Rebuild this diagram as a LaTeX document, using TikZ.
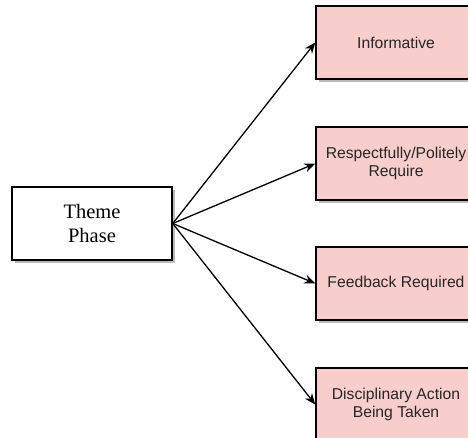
\documentclass[tikz,border=0pt]{standalone}
\usepackage{fontspec}
\setmainfont{Liberation Serif}
\newfontfamily\labelsans{Liberation Sans}
\usetikzlibrary{arrows.meta,shadows}
\definecolor{pinkfill}{HTML}{F8CECC}
\tikzset{
  phasebox/.style={draw=black, line width=1.5pt, fill=white, minimum width=160pt,
    minimum height=73pt, align=center, inner sep=0pt,
    font=\fontsize{20.5pt}{24pt}\selectfont,
    drop shadow={shadow xshift=3pt, shadow yshift=-3pt, fill=black!45, opacity=0.6}},
  themebox/.style={draw=black, line width=1.5pt, fill=pinkfill, minimum width=160pt,
    minimum height=73pt, align=center, inner sep=0pt,
    font=\labelsans\fontsize{15.7pt}{17.5pt}\selectfont, text=black!85,
    drop shadow={shadow xshift=3pt, shadow yshift=-3pt, fill=black!45, opacity=0.6}},
  link/.style={draw=black, line width=1.3pt, -{Stealth[length=11pt,width=9pt]}}
}
\begin{document}
\begin{tikzpicture}[x=1pt,y=-1pt]
  \useasboundingbox (0,0) rectangle (468,438);
  \clip (0,0) rectangle (468,438);
  \node[phasebox] (phase) at (92,223.5) {Theme\\Phase};
  \node[themebox] (info) at (396,42.5) {Informative};
  \node[themebox] (resp) at (396,163.5) {Respectfully/Politely\\Require};
  \node[themebox] (feed) at (396,283.5) {Feedback Required};
  \node[themebox] (disc) at (396,404.5) {Disciplinary Action\\Being Taken};
  \foreach \t in {info,resp,feed,disc}
    \draw[link] (phase.east) -- (\t.west);
\end{tikzpicture}
\end{document}
